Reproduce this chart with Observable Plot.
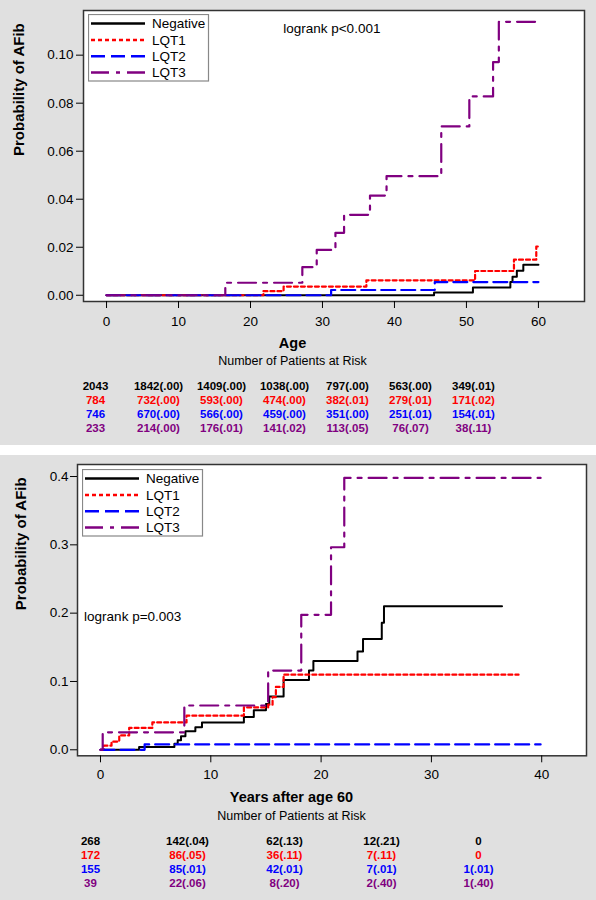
<!DOCTYPE html>
<html><head><meta charset="utf-8">
<script src="https://cdn.jsdelivr.net/npm/d3@7"></script>
<script src="https://cdn.jsdelivr.net/npm/@observablehq/plot@0.6"></script>
<style>
html,body{margin:0;padding:0;background:#fff}
body{width:596px;height:900px;position:relative;overflow:hidden;font-family:"Liberation Sans",Arial,sans-serif}
.panel{position:absolute;left:0;width:596px;height:445px;background:#e0e0e0}
.panel svg{position:absolute;left:0}
</style></head><body>
<div id="p1" class="panel" style="top:0px"></div>
<div id="p2" class="panel" style="top:455px"></div>
<script>
const FONT = "'Liberation Sans', Arial, sans-serif";
const groups = ["Negative", "LQT1", "LQT2", "LQT3"];
const colors = ["#000000", "#ff0000", "#0000ff", "#800080"];
const dashes = [null, "4,3", "14,6", "18,7,4,7"];
const widths = [2, 2.2, 2.2, 2.2];

// ---------- Panel 1: Age ----------
const ageTicks = [0, 10, 20, 30, 40, 50, 60];
const ageProbTicks = [0, 0.02, 0.04, 0.06, 0.08, 0.10];
const ageNegT = [0, 45.5, 50.9, 56.1, 56.4, 57.0, 57.9, 60.0];
const ageNegP = [0, 0.0012, 0.0032, 0.0055, 0.0077, 0.0102, 0.0127, 0.0127];
const ageLqt1T = [0, 21.8, 24.6, 36.1, 51.2, 56.6, 59.7, 60.0];
const ageLqt1P = [0, 0.0017, 0.0036, 0.0062, 0.0101, 0.0148, 0.0203, 0.0203];
const ageLqt2T = [0, 31.2, 45.6, 60.0];
const ageLqt2P = [0, 0.0022, 0.0055, 0.0055];
const ageLqt3T = [0, 16.5, 27.2, 29.2, 31.8, 33.0, 36.6, 38.9, 46.5, 50.4, 53.7, 54.5, 60.0];
const ageLqt3P = [0, 0.0052, 0.0117, 0.0189, 0.026, 0.0335, 0.0415, 0.0496, 0.0703, 0.0828, 0.0971, 0.1139, 0.1139];
const ageRiskNeg = [2043, 1842, 1409, 1038, 797, 563, 349];
const ageRiskNegP = [null, 0.00, 0.00, 0.00, 0.00, 0.00, 0.01];
const ageRiskLqt1 = [784, 732, 593, 474, 382, 279, 171];
const ageRiskLqt1P = [null, 0.00, 0.00, 0.00, 0.01, 0.01, 0.02];
const ageRiskLqt2 = [746, 670, 566, 459, 351, 251, 154];
const ageRiskLqt2P = [null, 0.00, 0.00, 0.00, 0.00, 0.01, 0.01];
const ageRiskLqt3 = [233, 214, 176, 141, 113, 76, 38];
const ageRiskLqt3P = [null, 0.00, 0.01, 0.02, 0.05, 0.07, 0.11];

// ---------- Panel 2: Years after age 60 ----------
const yrsTicks = [0, 10, 20, 30, 40];
const yrsProbTicks = [0, 0.1, 0.2, 0.3, 0.4];
const yrsNegT = [0, 3.5, 6.7, 7.0, 7.3, 7.7, 8.6, 9.2, 13.0, 13.9, 15.0, 15.3, 16.6, 18.9, 19.3, 23.3, 23.8, 25.5, 25.7, 36.4];
const yrsNegP = [0, 0.004, 0.009, 0.014, 0.020, 0.027, 0.033, 0.040, 0.048, 0.058, 0.067, 0.078, 0.102, 0.116, 0.130, 0.144, 0.162, 0.186, 0.210, 0.210];
const yrsLqt1T = [0, 0.3, 1.0, 1.7, 2.6, 4.7, 7.8, 13.0, 15.2, 15.6, 15.9, 16.6, 37.9];
const yrsLqt1P = [0, 0.006, 0.012, 0.021, 0.032, 0.040, 0.050, 0.062, 0.066, 0.077, 0.092, 0.110, 0.110];
const yrsLqt2T = [0, 4.0, 39.9];
const yrsLqt2P = [0, 0.0078, 0.0078];
const yrsLqt3T = [0, 0.2, 7.6, 15.2, 18.2, 20.9, 22.1, 39.9];
const yrsLqt3P = [0, 0.0256, 0.0648, 0.116, 0.1975, 0.2965, 0.398, 0.398];
const yrsRiskNeg = [268, 142, 62, 12, 0];
const yrsRiskNegP = [null, 0.04, 0.13, 0.21, null];
const yrsRiskLqt1 = [172, 86, 36, 7, 0];
const yrsRiskLqt1P = [null, 0.05, 0.11, 0.11, null];
const yrsRiskLqt2 = [155, 85, 42, 7, 1];
const yrsRiskLqt2P = [null, 0.01, 0.01, 0.01, 0.01];
const yrsRiskLqt3 = [39, 22, 8, 2, 1];
const yrsRiskLqt3P = [null, 0.06, 0.20, 0.40, 0.40];

const pfmt = d3.format(".2f");
const riskLabel = (n, p) => p == null ? String(n) : `${n}(${pfmt(p).replace(/^0/, "")})`;

function buildPanel(el, cfg) {
  const lines = cfg.series.map((s, i) => {
    const rows = s.t.map((t, j) => ({t, p: s.p[j]}));
    const o = {x: "t", y: "p", curve: "step-after", stroke: colors[i], strokeWidth: widths[i]};
    if (dashes[i]) o.strokeDasharray = dashes[i];
    return Plot.line(rows, o);
  });
  const chart = Plot.plot({
    width: 596, height: 445,
    marginLeft: cfg.m.left, marginRight: cfg.m.right, marginTop: cfg.m.top, marginBottom: cfg.m.bottom,
    x: {domain: cfg.xDomain},
    y: {domain: cfg.yDomain},
    style: {background: "transparent", fontFamily: FONT, color: "#000", overflow: "visible"},
    marks: [
      Plot.frame({fill: "white", stroke: "none"}),
      ...lines,
      Plot.frame({stroke: "#333", strokeWidth: 1.5}),
      Plot.axisX({ticks: cfg.xTicks, tickSize: 7, tickPadding: cfg.xPad, label: null, fontSize: 13.5, tickFormat: d3.format("d")}),
      Plot.axisY({ticks: cfg.yTicks, tickSize: 7, tickPadding: cfg.yPad, label: null, fontSize: 13.5, tickFormat: d3.format(cfg.yFmt)}),
      Plot.text([cfg.xTitle], {text: d => d, frameAnchor: "bottom", dx: cfg.titleDx, dy: cfg.titleDy, fontWeight: "bold", fontSize: 14.5}),
      Plot.text(["Number of Patients at Risk"], {text: d => d, frameAnchor: "bottom", dx: cfg.titleDx, dy: cfg.subDy, fontSize: 12.5}),
      Plot.text(["Probability of AFib"], {text: d => d, frameAnchor: "left", dx: cfg.yTitleDx, rotate: -90, fontWeight: "bold", fontSize: 15}),
      Plot.text([cfg.logrank], {text: d => d, frameAnchor: "top-left", dx: cfg.lrDx, dy: cfg.lrDy, textAnchor: "start", fontSize: 13.5})
    ]
  });
  chart.style.top = "0px";
  el.appendChild(chart);

  // risk table
  const ncol = cfg.risk[0].n.length;
  const riskRows = [];
  cfg.risk.forEach((r, gi) => r.n.forEach((n, ci) => riskRows.push({col: ci, group: groups[gi], label: riskLabel(n, r.p[ci])})));
  const table = Plot.plot({
    width: 596, height: 65,
    marginLeft: cfg.riskLeft, marginRight: cfg.riskRight, marginTop: 10.7, marginBottom: 12.3,
    x: {type: "point", domain: d3.range(ncol), padding: 0, axis: null},
    y: {type: "point", domain: groups, padding: 0, axis: null},
    color: {domain: groups, range: colors},
    style: {background: "transparent", fontFamily: FONT, overflow: "visible"},
    marks: [Plot.text(riskRows, {x: "col", y: "group", text: "label", fill: "group", fontWeight: "bold", fontSize: 11.5})]
  });
  table.style.top = "375px";
  el.appendChild(table);

  // legend
  const lg = d3.create("svg").attr("width", 122).attr("height", 68)
    .style("position", "absolute").style("left", cfg.legLeft + "px").style("top", cfg.legTop + "px")
    .style("font-family", FONT);
  lg.append("rect").attr("x", 0.5).attr("y", 0.5).attr("width", 120).attr("height", 66.5)
    .attr("fill", "white").attr("stroke", "#888").attr("stroke-width", 1.2);
  const rowsY = [9.5, 26, 42.3, 58.5];
  groups.forEach((g, i) => {
    const ln = lg.append("line").attr("x1", 3).attr("x2", 57).attr("y1", rowsY[i]).attr("y2", rowsY[i])
      .attr("stroke", colors[i]).attr("stroke-width", 2.4);
    if (dashes[i]) ln.attr("stroke-dasharray", dashes[i]);
    lg.append("text").attr("x", 64).attr("y", rowsY[i]).attr("dy", "0.35em")
      .attr("font-size", 13.5).attr("fill", "#000").text(g);
  });
  el.appendChild(lg.node());
}

buildPanel(document.getElementById("p1"), {
  m: {left: 83, right: 12, top: 10, bottom: 144},
  xDomain: [-3.2, 66.4], yDomain: [-0.0026, 0.1186],
  xTicks: ageTicks, yTicks: ageProbTicks, yFmt: ".2f", xPad: 8, yPad: 3,
  xTitle: "Age", titleDx: -41.5, titleDy: 46, subDy: 63, yTitleDx: -64,
  logrank: "logrank p<0.001", lrDx: 199.7, lrDy: 12.7,
  series: [{t: ageNegT, p: ageNegP}, {t: ageLqt1T, p: ageLqt1P}, {t: ageLqt2T, p: ageLqt2P}, {t: ageLqt3T, p: ageLqt3P}],
  risk: [{n: ageRiskNeg, p: ageRiskNegP}, {n: ageRiskLqt1, p: ageRiskLqt1P}, {n: ageRiskLqt2, p: ageRiskLqt2P}, {n: ageRiskLqt3, p: ageRiskLqt3P}],
  riskLeft: 93, riskRight: 122,
  legLeft: 87.5, legTop: 14
});

buildPanel(document.getElementById("p2"), {
  m: {left: 77, right: 10, top: 9, bottom: 144.7},
  xDomain: [-2.085, 44.06], yDomain: [-0.0088, 0.4176],
  xTicks: yrsTicks, yTicks: yrsProbTicks, yFmt: ".1f", xPad: 7, yPad: 2,
  xTitle: "Years after age 60", titleDx: -40.5, titleDy: 46.4, subDy: 64, yTitleDx: -56,
  logrank: "logrank p=0.003", lrDx: 6.6, lrDy: 146.7,
  series: [{t: yrsNegT, p: yrsNegP}, {t: yrsLqt1T, p: yrsLqt1P}, {t: yrsLqt2T, p: yrsLqt2P}, {t: yrsLqt3T, p: yrsLqt3P}],
  risk: [{n: yrsRiskNeg, p: yrsRiskNegP}, {n: yrsRiskLqt1, p: yrsRiskLqt1P}, {n: yrsRiskLqt2, p: yrsRiskLqt2P}, {n: yrsRiskLqt3, p: yrsRiskLqt3P}],
  riskLeft: 89, riskRight: 117,
  legLeft: 81.5, legTop: 13.5
});
</script>
</body></html>
